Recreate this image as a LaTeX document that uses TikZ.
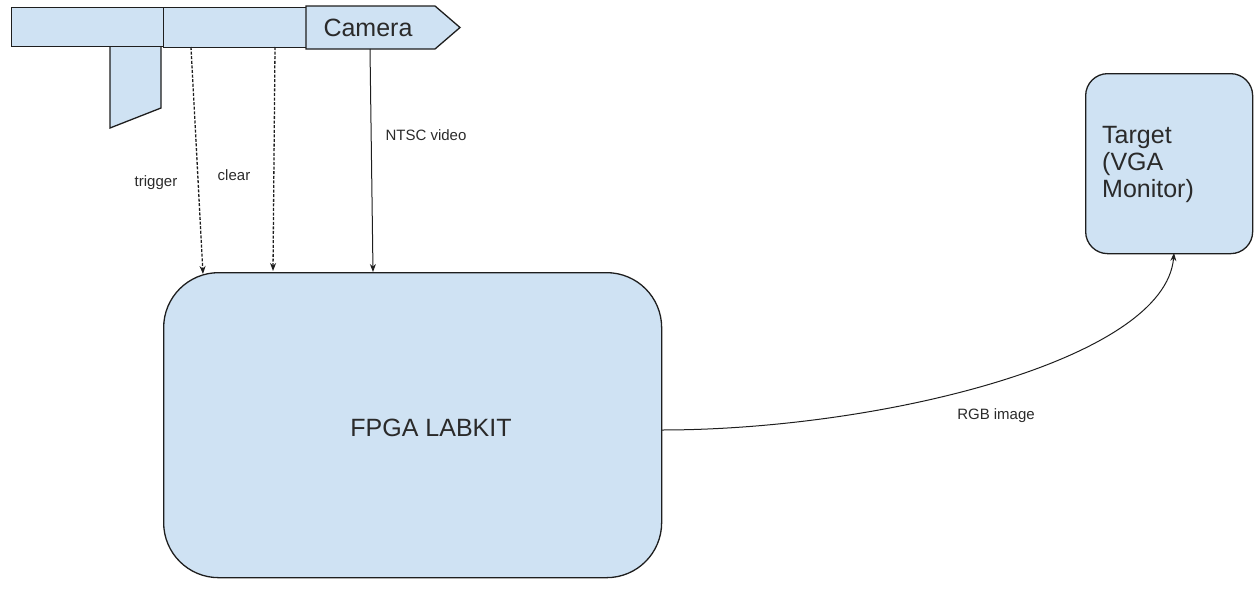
\documentclass[tikz,border=0pt]{standalone}
\usepackage{fontspec}
\setmainfont{Liberation Sans}
\usetikzlibrary{arrows.meta}
\definecolor{boxfill}{HTML}{CFE2F3}
\definecolor{ink}{HTML}{1E1E1E}
\definecolor{labelink}{HTML}{2A2A2A}
\begin{document}
\begin{tikzpicture}[x=1pt,y=-1pt,
  part/.style={draw=ink, fill=boxfill, line width=1.3pt},
  rbox/.style={draw=ink, fill=boxfill, line width=1.3pt, inner sep=0pt},
  lbl/.style={font=\fontsize{15}{18}\selectfont, text=labelink, inner sep=0pt},
  sig/.style={draw=ink, line width=1pt, -{Stealth[length=8pt,width=6pt]}},
  dsig/.style={sig, line width=1.3pt, dash pattern=on 3pt off 1.6pt}]
\useasboundingbox (0,0) rectangle (1257,589);

% camera body: two bar segments, the grip and the lens pointer
\draw[part] (110,46) -- (161,46) -- (161,108) -- (110,128) -- cycle;
\node[rbox, anchor=north west, minimum width=152pt, minimum height=39pt] (bar1) at (11,7) {};
\node[rbox, anchor=north west, minimum width=143pt, minimum height=40pt] (bar2) at (163,7) {};
\draw[part] (306,6) -- (435,6) -- (460,27.5) -- (435,49) -- (306,49) -- cycle;
\node[font=\fontsize{25}{30}\selectfont, text=labelink] (camera) at (368,28) {Camera};

% main board
\node[rbox, rounded corners=55pt, anchor=north west, minimum width=498pt, minimum height=305pt] (fpga) at (163,272) {};
\node[font=\fontsize{25}{30}\selectfont, text=labelink] (fpgatext) at (431,428) {FPGA LABKIT};

% display target
\node[rbox, rounded corners=22pt, anchor=north west, minimum width=167pt, minimum height=180pt] (target) at (1085,73) {};
\node[font=\fontsize{25}{27}\selectfont, text=labelink, align=left, anchor=north west, inner sep=0pt] (targettext) at (1102,126) {Target\\(VGA\\Monitor)};

% signal end points
\coordinate (trigA) at (191,47);
\coordinate (trigB) at (203,274);
\coordinate (clrA) at (275,47);
\coordinate (clrB) at (273,271);
\coordinate (ntscA) at (370,49);
\coordinate (ntscB) at (373,272);
\coordinate (rgbA) at (661,430);
\coordinate (rgbB) at (1174,253);

\draw[dsig] (trigA) -- (trigB);
\draw[dsig] (clrA) -- (clrB);
\draw[sig] (ntscA) -- (ntscB);
\draw[sig] (rgbA) .. controls (880,430) and (1165,360) .. (rgbB);

% signal labels
\node[lbl] (ltrig) at (156,183) {trigger};
\node[lbl] (lclr) at (234,175) {clear};
\node[lbl] (lntsc) at (426,135) {NTSC video};
\node[lbl] (lrgb) at (996,416) {RGB image};
\end{tikzpicture}
\end{document}
